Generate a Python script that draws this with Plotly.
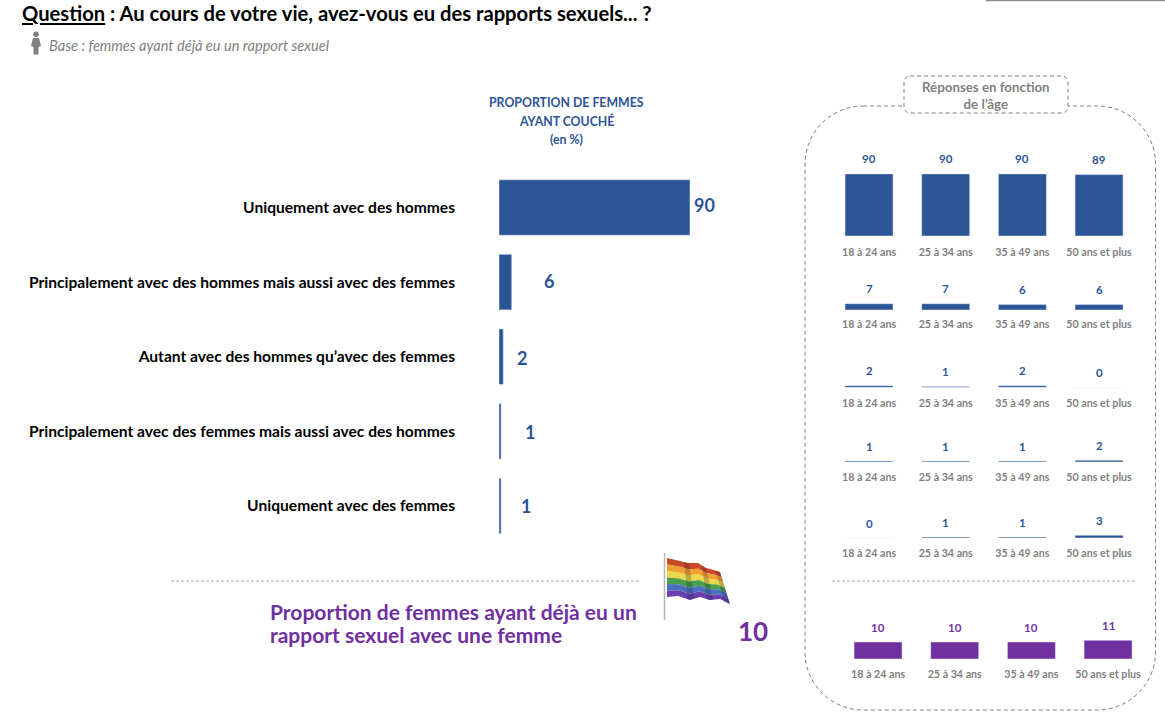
import plotly.graph_objects as go

W, H = 1165, 725
FONT = "Lato, Carlito, Calibri, sans-serif"
BLUE = "#2b5597"
PURPLE = "#7030a0"
GREY = "#7f7f7f"

# main chart
categories = [
    "Uniquement avec des hommes",
    "Principalement avec des hommes mais aussi avec des femmes",
    "Autant avec des hommes qu’avec des femmes",
    "Principalement avec des femmes mais aussi avec des hommes",
    "Uniquement avec des femmes",
]
values = [90, 6, 2, 1, 1]
header_lines = ["PROPORTION DE FEMMES", "AYANT COUCHÉ", "(en %)"]
total_lines = ["Proportion de femmes ayant déjà eu un", "rapport sexuel avec une femme"]
total_value = 10

# answers by age
ages = ["18 à 24 ans", "25 à 34 ans", "35 à 49 ans", "50 ans et plus"]
age_only_men = [90, 90, 90, 89]
age_mostly_men = [7, 7, 6, 6]
age_both = [2, 1, 2, 0]
age_mostly_women = [1, 1, 1, 2]
age_only_women = [0, 1, 1, 3]
age_total = [10, 10, 10, 11]

# where the value labels sit next to the main bars (px from the bar end)
label_xshift = [15, 37, 19, 29, 25]
label_yshift = [3, 1, -1, -1, 0]


def px(x):
    return x / W


def py(y):
    return 1 - y / H


def path(points):
    return " ".join(("M" if i == 0 else "L") + f"{px(x):.5f},{py(y):.5f}" for i, (x, y) in enumerate(points)) + " Z"


fig = go.Figure()
annotations = []
shapes = []

# main horizontal bars
fig.add_trace(go.Bar(y=categories, x=values, orientation="h", width=0.744, marker_color=BLUE,
                     xaxis="x", yaxis="y", hoverinfo="x+y"))
axes = {
    "xaxis": dict(domain=[px(499), px(711.2)], range=[0, 100], visible=False, fixedrange=True),
    "yaxis": dict(domain=[py(543.3), py(170.2)], autorange="reversed", type="category", showgrid=False,
                  showline=False, zeroline=False, ticks="", ticklabelstandoff=43, fixedrange=True,
                  tickfont=dict(family=FONT, size=15.6, color="#000000", weight="bold")),
}
for cat, v, dx, dy in zip(categories, values, label_xshift, label_yshift):
    annotations.append(dict(x=v, y=cat, xref="x", yref="y", text=f"<b>{v}</b>", showarrow=False,
                            xshift=dx, yshift=dy, font=dict(family=FONT, size=18, color=BLUE)))

# small multiples, one row per answer:
# (values, left px of the axis, baseline px, px per unit, colour, label standoff)
rows = [
    (age_only_men, 830.7, 236, 0.69, BLUE, 8),
    (age_mostly_men, 830.7, 310, 0.9, BLUE, 6),
    (age_both, 830.7, 387.5, 0.9, BLUE, 8),
    (age_mostly_women, 830.7, 462, 0.9, BLUE, 7),
    (age_only_women, 830.7, 538, 0.9, BLUE, 7),
    (age_total, 839.7, 659, 1.7, PURPLE, 7),
]
for i, (vals, left, base, scale, color, standoff) in enumerate(rows):
    n = i + 2
    fig.add_trace(go.Bar(x=ages, y=vals, width=0.626, marker_color=color, xaxis=f"x{n}", yaxis=f"y{n}"))
    axes[f"xaxis{n}"] = dict(domain=[px(left), px(left + 306.7)], anchor=f"y{n}", type="category",
                             showgrid=False, showline=False, zeroline=False, ticks="",
                             ticklabelstandoff=standoff, fixedrange=True, range=[-0.5, 3.5],
                             tickfont=dict(family=FONT, size=10.7, color=GREY, weight="bold"))
    axes[f"yaxis{n}"] = dict(domain=[py(base), py(base - 70)], anchor=f"x{n}", range=[0, 70 / scale],
                             visible=False, fixedrange=True)
    for age, v in zip(ages, vals):
        annotations.append(dict(x=age, y=v, xref=f"x{n}", yref=f"y{n}", text=f"<b>{v}</b>", showarrow=False,
                                yshift=15, font=dict(family=FONT, size=11.5, color=color)))


def text(x, y, s, size, color, anchor="left", **kw):
    annotations.append(dict(x=px(x), y=py(y), xref="paper", yref="paper", text=s, showarrow=False,
                            xanchor=anchor, yanchor="middle", align=anchor,
                            font=dict(family=FONT, size=size, color=color), **kw))


text(20, 13, "<b><u>Question</u> : Au cours de votre vie, avez-vous eu des rapports sexuels... ?</b>", 20.2, "#000000")
text(47, 45, "<i>Base : femmes ayant déjà eu un rapport sexuel</i>", 14.6, GREY)
for line, y in zip(header_lines, [102, 121, 140]):
    text(566.5, y, f"<b>{line}</b>", 12.3, BLUE, anchor="center")
text(986, 96, "<b>Réponses en fonction<br>de l’âge</b>", 13.3, GREY, anchor="center")
for line, y in zip(total_lines, [611, 634]):
    text(268, y, f"<b>{line}</b>", 21, PURPLE)
text(753, 631, f"<b>{total_value}</b>", 26, PURPLE, anchor="center")


def curved_box(x0, y0, x1, y1, r, fill):
    k = 0.55 * r
    pts = [
        ("M", (x0 + r, y0)), ("L", (x1 - r, y0)),
        ("C", (x1 - r + k, y0), (x1, y0 + r - k), (x1, y0 + r)),
        ("L", (x1, y1 - r)),
        ("C", (x1, y1 - r + k), (x1 - r + k, y1), (x1 - r, y1)),
        ("L", (x0 + r, y1)),
        ("C", (x0 + r - k, y1), (x0, y1 - r + k), (x0, y1 - r)),
        ("L", (x0, y0 + r)),
        ("C", (x0, y0 + r - k), (x0 + r - k, y0), (x0 + r, y0)),
    ]
    p = " ".join(c + " ".join(f"{px(x):.5f},{py(y):.5f}" for x, y in xy) for c, *xy in pts) + " Z"
    return dict(type="path", path=p, xref="paper", yref="paper", layer="below", fillcolor=fill,
                line=dict(color="#808080", width=1, dash="4px,3px"))


def hline(x0, x1, y, color, width, dash="solid"):
    return dict(type="line", xref="paper", yref="paper", x0=px(x0), x1=px(x1), y0=py(y), y1=py(y),
                line=dict(color=color, width=width, dash=dash))


shapes.append(curved_box(805, 106, 1155.5, 710, 58, "rgba(0,0,0,0)"))
shapes.append(curved_box(904, 76, 1068, 113, 6, "#ffffff"))
shapes.append(hline(171, 640, 581, "#a6a6a6", 1, "3px,2px"))
shapes.append(hline(832, 1137, 581, "#a6a6a6", 1, "3px,2px"))
shapes.append(hline(986, 1165, 0.5, "#8c8c8c", 1.5))

# small woman icon beside the base line
shapes.append(dict(type="circle", xref="paper", yref="paper", x0=px(33.2), x1=px(38.8), y0=py(37), y1=py(31.5),
                   fillcolor="#808080", line_width=0))
shapes.append(dict(type="path", xref="paper", yref="paper", fillcolor="#808080", line_width=0,
                   path=path([(33, 38), (39, 38), (41, 46), (38.5, 47), (38.5, 54.5), (33.5, 54.5), (33.5, 47), (31, 46)])))

# flag
flag_colors = ["#c94a2a", "#f0a030", "#e8d84a", "#4a9e50", "#4a70c0", "#6a40b0"]
flag_top = [(667, 558), (680, 561), (688, 563), (698, 563), (706, 568), (714, 570), (720, 572)]
flag_bottom = [(667, 597), (678, 596), (690, 600), (700, 597), (710, 600), (720, 599), (730, 604)]
shapes.append(dict(type="line", xref="paper", yref="paper", x0=px(664.5), x1=px(664.5), y0=py(553), y1=py(620),
                   line=dict(color="#b5b5b5", width=1.5)))
for k, c in enumerate(flag_colors):
    a, b = k / 6, (k + 1) / 6
    upper = [(t[0] + (u[0] - t[0]) * a, t[1] + (u[1] - t[1]) * a) for t, u in zip(flag_top, flag_bottom)]
    lower = [(t[0] + (u[0] - t[0]) * b, t[1] + (u[1] - t[1]) * b) for t, u in zip(flag_top, flag_bottom)]
    shapes.append(dict(type="path", xref="paper", yref="paper", fillcolor=c, line_width=0,
                       path=path(upper + lower[::-1])))
# folds in the cloth
flag_folds = [
    [(684, 562), (689, 563), (694, 599), (688, 600)],
    [(702, 566), (706, 568), (713, 600), (707, 600)],
    [(716, 571), (720, 572), (730, 604), (724, 602)],
]
for fold in flag_folds:
    shapes.append(dict(type="path", xref="paper", yref="paper", fillcolor="rgba(20,20,40,0.22)", line_width=0,
                       path=path(fold)))

fig.update_layout(width=W, height=H, margin=dict(l=0, r=0, t=0, b=0), showlegend=False,
                  paper_bgcolor="white", plot_bgcolor="white", annotations=annotations, shapes=shapes,
                  font=dict(family=FONT), **axes)

fig.write_html("out.html", config={"displayModeBar": False}, post_script="document.body.style.margin='0';")
